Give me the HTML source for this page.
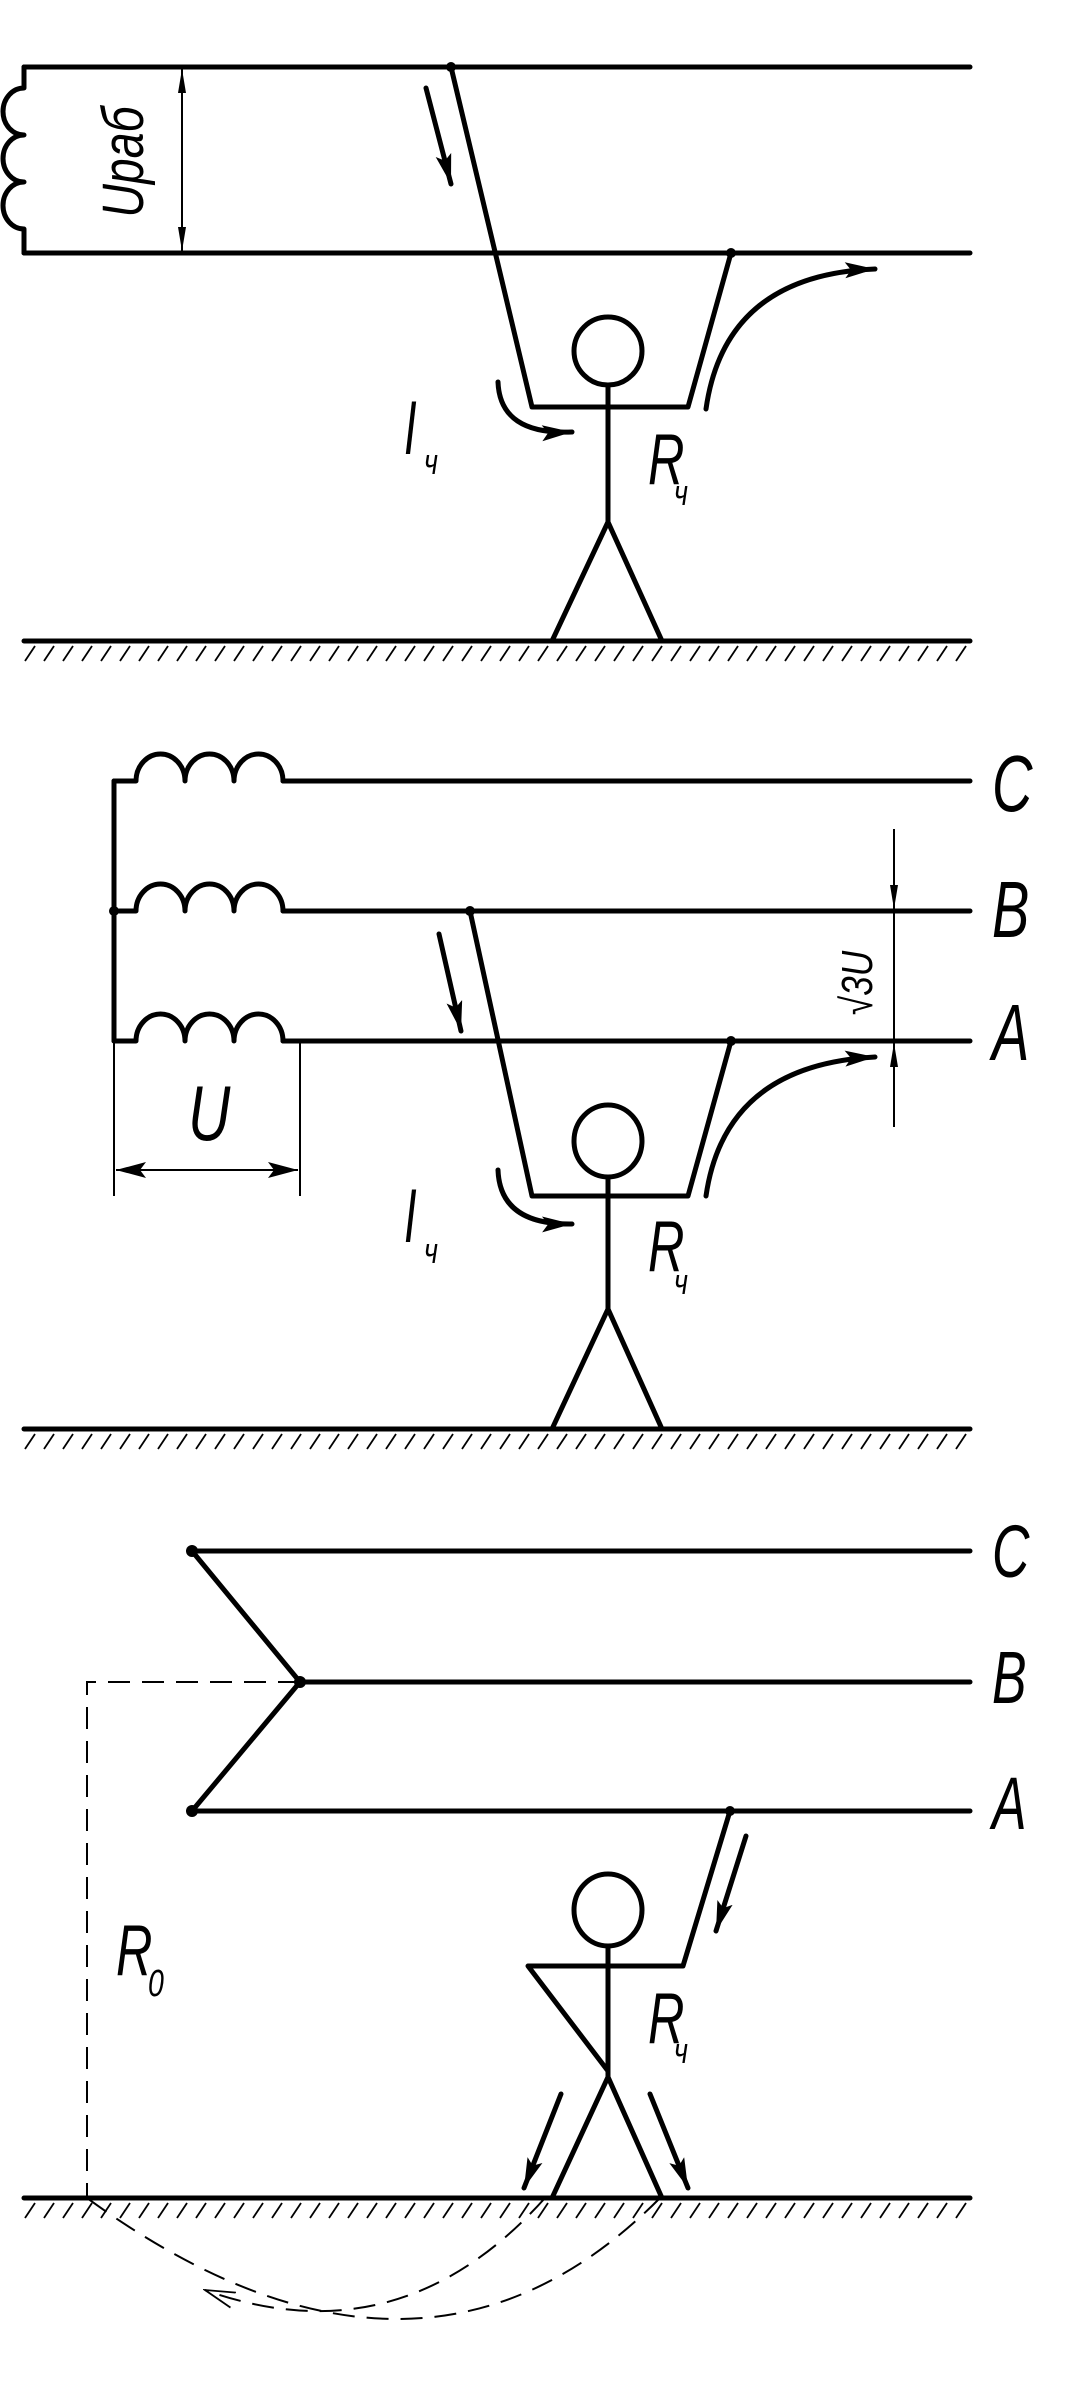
<!DOCTYPE html>
<html><head><meta charset="utf-8"><style>html,body{margin:0;padding:0;background:#fff}svg{display:block}</style></head>
<body>
<svg width="1090" height="2389" viewBox="0 0 1090 2389" xmlns="http://www.w3.org/2000/svg">
<defs>
<marker id="a" markerUnits="userSpaceOnUse" markerWidth="34" markerHeight="18" refX="30" refY="8" orient="auto"><path d="M0,0 L30,8 L0,16 L6,8 z" fill="#000"/></marker>
<marker id="t" markerUnits="userSpaceOnUse" markerWidth="26" markerHeight="10" refX="24" refY="4" orient="auto"><path d="M0,0 L24,4 L0,8 z" fill="#000"/></marker>
<marker id="o" markerUnits="userSpaceOnUse" markerWidth="32" markerHeight="18" refX="30" refY="9" orient="auto"><path d="M0,1 L30,9 L0,17" fill="none" stroke="#000" stroke-width="1.8"/></marker>
<pattern id="h" width="19" height="18" patternUnits="userSpaceOnUse" x="24" y="644"><line x1="1" y1="17" x2="11" y2="2" stroke="#000" stroke-width="1.8"/></pattern>
<pattern id="h2" width="19" height="18" patternUnits="userSpaceOnUse" x="24" y="1432"><line x1="1" y1="17" x2="11" y2="2" stroke="#000" stroke-width="1.8"/></pattern>
<pattern id="h3" width="19" height="18" patternUnits="userSpaceOnUse" x="24" y="2201"><line x1="1" y1="17" x2="11" y2="2" stroke="#000" stroke-width="1.8"/></pattern>
</defs>
<g fill="none" stroke="#000" stroke-width="5" stroke-linecap="round" stroke-linejoin="round">
<!-- Panel 1 -->
<line x1="24" y1="67" x2="970" y2="67"/>
<line x1="24" y1="253" x2="970" y2="253"/>
<path d="M24,67 V88 A21 23.5 0 0 0 24 135 A21 23.5 0 0 0 24 182 A21 23.5 0 0 0 24 229 V253"/>
<line x1="24" y1="641" x2="970" y2="641"/>
<path d="M451,67 L532,407 H688 L731,253"/>
<ellipse cx="608" cy="351" rx="34" ry="34"/>
<path d="M608,385 V522 M552,641 L608,522 L662,641"/>
<line x1="426" y1="88" x2="451" y2="184" marker-end="url(#a)"/>
<path d="M498,382 Q500,435 572,432" marker-end="url(#a)"/>
<path d="M706,409 Q725,275 875,269" marker-end="url(#a)"/>
<!-- Panel 2 -->
<line x1="283" y1="781" x2="970" y2="781"/>
<line x1="283" y1="911" x2="970" y2="911"/>
<line x1="283" y1="1041" x2="970" y2="1041"/>
<path d="M114,781 V1041"/>
<path d="M114,781 H136 A24.5 27 0 0 1 185 781 A24.5 27 0 0 1 234 781 A24.5 27 0 0 1 283 781"/>
<path d="M114,911 H136 A24.5 27 0 0 1 185 911 A24.5 27 0 0 1 234 911 A24.5 27 0 0 1 283 911"/>
<path d="M114,1041 H136 A24.5 27 0 0 1 185 1041 A24.5 27 0 0 1 234 1041 A24.5 27 0 0 1 283 1041"/>
<line x1="24" y1="1429" x2="970" y2="1429"/>
<path d="M470,911 L532,1196 H688 L731,1041"/>
<ellipse cx="608" cy="1141" rx="34" ry="36"/>
<path d="M608,1177 V1309 M552,1429 L608,1309 L662,1429"/>
<line x1="439" y1="934" x2="461" y2="1031" marker-end="url(#a)"/>
<path d="M498,1170 Q500,1225 572,1224" marker-end="url(#a)"/>
<path d="M706,1196 Q725,1065 875,1057" marker-end="url(#a)"/>
<!-- Panel 3 -->
<line x1="192" y1="1551" x2="970" y2="1551"/>
<line x1="300" y1="1682" x2="970" y2="1682"/>
<line x1="192" y1="1811" x2="970" y2="1811"/>
<path d="M192,1551 L300,1682 L192,1811"/>
<line x1="24" y1="2198" x2="970" y2="2198"/>
<path d="M730,1811 L683,1966 H528 L608,2071"/>
<ellipse cx="608" cy="1910" rx="34" ry="36"/>
<path d="M608,1946 V2077 M552,2198 L608,2077 L662,2198"/>
<line x1="746" y1="1836" x2="716" y2="1931" marker-end="url(#a)"/>
<line x1="561" y1="2094" x2="524" y2="2188" marker-end="url(#a)"/>
<line x1="650" y1="2094" x2="688" y2="2188" marker-end="url(#a)"/>
</g>
<g fill="#000">
<circle cx="451" cy="67" r="5"/><circle cx="731" cy="253" r="5"/>
<circle cx="114" cy="911" r="5"/><circle cx="470" cy="911" r="5"/><circle cx="731" cy="1041" r="5"/>
<circle cx="192" cy="1551" r="6"/><circle cx="300" cy="1682" r="6"/><circle cx="192" cy="1811" r="6"/><circle cx="730" cy="1811" r="5"/>
</g>
<rect x="24" y="644" width="946" height="18" fill="url(#h)"/>
<rect x="24" y="1432" width="946" height="18" fill="url(#h2)"/>
<rect x="24" y="2201" width="946" height="18" fill="url(#h3)"/>
<g stroke="#000" stroke-width="2" fill="none">
<path d="M182,160 L182,69" marker-end="url(#t)"/>
<path d="M182,160 L182,251" marker-end="url(#t)"/>
<line x1="894" y1="829" x2="894" y2="1127"/>
<path d="M894,850 L894,909" marker-end="url(#t)"/>
<path d="M894,1105 L894,1043" marker-end="url(#t)"/>
<line x1="114" y1="1041" x2="114" y2="1196"/>
<line x1="300" y1="1041" x2="300" y2="1196"/>
<path d="M207,1170 L116,1170" marker-end="url(#a)"/>
<path d="M207,1170 L298,1170" marker-end="url(#a)"/>
</g>
<g stroke="#000" stroke-width="2" fill="none" stroke-dasharray="22,12">
<path d="M300,1682 H87 V2198"/>
<path d="M660,2198 Q420,2440 87,2198"/>
<path d="M545,2198 Q400,2360 205,2290" marker-end="url(#o)"/>
</g>
<g font-family="Liberation Sans, DejaVu Sans, sans-serif" font-style="italic" fill="#000">
<text transform="translate(143,162) rotate(-90) scale(0.8,1)" text-anchor="middle" font-size="58">Uраб</text>
<text transform="translate(404,454) scale(0.6,1)" font-size="76">I</text><text transform="translate(424,474) scale(0.75,1)" font-size="36">ч</text>
<text transform="translate(648,484) scale(0.7,1)" font-size="72">R</text><text transform="translate(674,505) scale(0.75,1)" font-size="36">ч</text>
<text transform="translate(404,1242) scale(0.6,1)" font-size="76">I</text><text transform="translate(424,1263) scale(0.75,1)" font-size="36">ч</text>
<text transform="translate(648,1271) scale(0.7,1)" font-size="72">R</text><text transform="translate(674,1294) scale(0.75,1)" font-size="36">ч</text>
<text transform="translate(188,1140) scale(0.75,1)" font-size="78">U</text>
<text transform="translate(872,983) rotate(-90) scale(0.8,1)" text-anchor="middle" font-size="44">√3U</text>
<text transform="translate(992,811) scale(0.7,1)" font-size="80">C</text>
<text transform="translate(992,937) scale(0.7,1)" font-size="80">B</text>
<text transform="translate(992,1060) scale(0.7,1)" font-size="80">A</text>
<text transform="translate(992,1577) scale(0.7,1)" font-size="74">C</text>
<text transform="translate(992,1703) scale(0.7,1)" font-size="74">B</text>
<text transform="translate(992,1829) scale(0.7,1)" font-size="74">A</text>
<text transform="translate(116,1975) scale(0.7,1)" font-size="72">R</text><text transform="translate(148,1996) scale(0.75,1)" font-size="38">0</text>
<text transform="translate(648,2043) scale(0.7,1)" font-size="72">R</text><text transform="translate(674,2063) scale(0.75,1)" font-size="36">ч</text>
</g>
</svg>
</body></html>
